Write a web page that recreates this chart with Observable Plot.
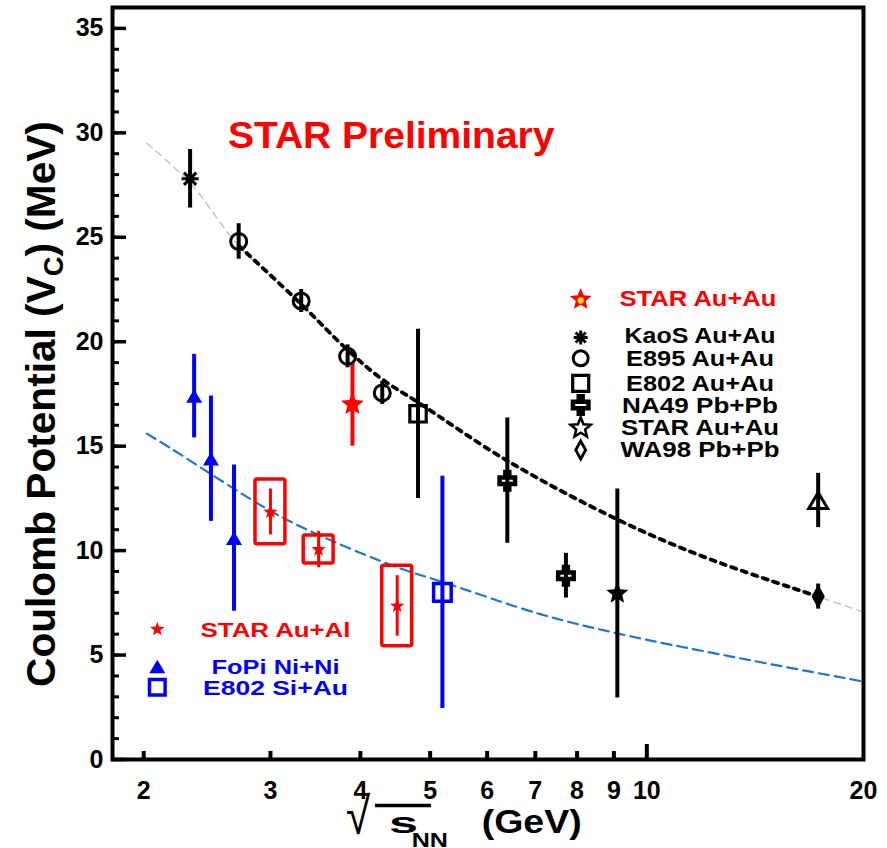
<!DOCTYPE html>
<html>
<head>
<meta charset="utf-8">
<script src="https://cdn.jsdelivr.net/npm/d3@7"></script>
<script src="https://cdn.jsdelivr.net/npm/@observablehq/plot@0.6"></script>
<style>
  html, body { margin: 0; padding: 0; background: #fff; }
  #chart svg { display: block; }
</style>
</head>
<body>
<div id="chart"></div>
<script>
// Coulomb potential V_C (MeV) vs collision energy sqrt(s_NN) (GeV), with uncertainties.
// Heavy systems
const kaosX = [2.32], kaosV = [27.8], kaosErr = [1.4];
const e895X = [2.71, 3.31, 3.84, 4.29], e895V = [24.8, 21.95, 19.3, 17.55], e895Err = [0.85, 0.55, 0.55, 0.55];
const e802AuX = [4.81], e802AuV = [16.55], e802AuErr = [4.05];
const na49X = [6.4, 7.72], na49V = [13.35, 8.8], na49Err = [3.0, 1.07];
const starAuAuX = [9.1], starAuAuV = [7.95], starAuAuErr = [5.0];
const wa98X = [17.3], wa98V = [7.8], wa98Err = [0.6];
const openTriX = [17.3], openTriV = [12.4], openTriErr = [1.3];
const starFxtX = [3.9], starFxtV = [17.0], starFxtErr = [2.0];
// Light systems
const auAlX = [3.0, 3.5, 4.5], auAlV = [11.85, 10.05, 7.35], auAlStat = [1.1, 0.87, 1.45], auAlSys = [1.55, 0.67, 1.93];
const fopiX = [2.35, 2.48, 2.67], fopiV = [17.4, 14.4, 10.6], fopiErr = [2.0, 3.0, 3.5];
const e802SiX = [5.2], e802SiV = [8.0], e802SiErr = [5.56];
// Trend curves
const heavyFitX = [2.02, 2.32, 2.71, 3.31, 3.84, 4.29, 4.81, 6.4, 9.09, 12, 17.3, 20];
const heavyFitV = [29.5, 27.6, 24.6, 21.8, 19.6, 18.2, 17.1, 14.3, 11.5, 9.7, 7.8, 7.05];
const heavyFitRange = [2.71, 17.3];
const lightFitX = [2.02, 2.18, 3.0, 3.5, 4.5, 5.2, 7.11, 9.09, 13, 20];
const lightFitV = [15.6, 14.9, 11.9, 10.75, 9.2, 8.5, 6.96, 6.04, 4.95, 3.73];
// Axes
const xTicks = [2, 3, 4, 5, 6, 7, 8, 9, 10, 20];
const yTicks = [0, 5, 10, 15, 20, 25, 30, 35];
// Legend entries
const heavyLabels = ["KaoS Au+Au", "E895 Au+Au", "E802 Au+Au", "NA49 Pb+Pb", "STAR Au+Au", "WA98 Pb+Pb"];
const lightLabels = ["STAR Au+Al", "FoPi Ni+Ni", "E802 Si+Au"];
const fxtLabel = "STAR Au+Au";
const watermark = "STAR Preliminary";

const pts = (xs, vs, es, sys) => xs.map((x, i) => ({x, v: vs[i], e: es[i], s: sys ? sys[i] : 0}));
const curve = (xs, vs) => xs.map((x, i) => ({x, v: vs[i]}));

const kaos = pts(kaosX, kaosV, kaosErr);
const e895 = pts(e895X, e895V, e895Err);
const e802Au = pts(e802AuX, e802AuV, e802AuErr);
const na49 = pts(na49X, na49V, na49Err);
const starAuAu = pts(starAuAuX, starAuAuV, starAuAuErr);
const wa98 = pts(wa98X, wa98V, wa98Err);
const openTri = pts(openTriX, openTriV, openTriErr);
const starFxt = pts(starFxtX, starFxtV, starFxtErr);
const auAl = pts(auAlX, auAlV, auAlStat, auAlSys);
const fopi = pts(fopiX, fopiV, fopiErr);
const e802Si = pts(e802SiX, e802SiV, e802SiErr);
const heavyFit = curve(heavyFitX, heavyFitV);
const lightFit = curve(lightFitX, lightFitV);

// Marker shapes; r = sqrt(size / PI) is the marker radius in pixels
const rad = s => Math.sqrt(s / Math.PI);
const asteriskSym = {draw(c, s) {
  const r = rad(s), d = r * 0.72;
  c.moveTo(-r, 0); c.lineTo(r, 0); c.moveTo(0, -r); c.lineTo(0, r);
  c.moveTo(-d, -d); c.lineTo(d, d); c.moveTo(-d, d); c.lineTo(d, -d);
}};
const squareSym = {draw(c, s) { const r = rad(s); c.rect(-r, -r, 2 * r, 2 * r); }};
const starSym = inner => ({draw(c, s) {
  const r = rad(s);
  for (let i = 0; i < 10; i++) {
    const a = -Math.PI / 2 + i * Math.PI / 5, rr = i % 2 ? r * inner : r;
    const px = rr * Math.cos(a), py = rr * Math.sin(a);
    if (i) c.lineTo(px, py); else c.moveTo(px, py);
  }
  c.closePath();
}});
const triSym = {draw(c, s) {
  const r = rad(s), h = r * 1.7;
  c.moveTo(0, -h / 2); c.lineTo(r, h / 2); c.lineTo(-r, h / 2); c.closePath();
}};
const diamondSym = {draw(c, s) {
  const r = rad(s), w = r * 0.55;
  c.moveTo(0, -r); c.lineTo(w, 0); c.lineTo(0, r); c.lineTo(-w, 0); c.closePath();
}};
// Filled cross with a thin slot in the middle
const crossSym = {draw(c, s) {
  const r = rad(s), a = r * 0.42, b = r * 0.55, v = r * 1.1, hx = r * 0.55, hy = r * 0.1;
  c.moveTo(-a, -v); c.lineTo(a, -v); c.lineTo(a, -b); c.lineTo(r, -b); c.lineTo(r, b);
  c.lineTo(a, b); c.lineTo(a, v); c.lineTo(-a, v); c.lineTo(-a, b); c.lineTo(-r, b);
  c.lineTo(-r, -b); c.lineTo(-a, -b); c.closePath();
  c.moveTo(-hx, -hy); c.lineTo(-hx, hy); c.lineTo(hx, hy); c.lineTo(hx, -hy); c.closePath();
}};

const RED = "#ff0000", BLUE = "#0000ff", CURVE_BLUE = "#1f77c9";
const FONT = "'Liberation Sans', Arial, Helvetica, sans-serif";

const errBars = (data, stroke, strokeWidth = 4) =>
  Plot.ruleX(data, {x: "x", y1: d => d.v - d.e, y2: d => d.v + d.e, stroke, strokeWidth});

const svg = Plot.plot({
  width: 887,
  height: 848,
  marginLeft: 112,
  marginRight: 24,
  marginTop: 7,
  marginBottom: 89,
  style: {fontFamily: FONT, background: "#fff", overflow: "visible"},
  x: {type: "log", domain: [1.81, 20]},
  y: {domain: [0, 36]},
  marks: [
    // inward ticks
    Plot.axisY({ticks: d3.range(0, 36, 1), tickSize: -7, tickFormat: () => "", strokeWidth: 3, label: null}),
    Plot.axisY({ticks: yTicks, tickSize: -14, tickFormat: () => "", strokeWidth: 3.5, label: null}),
    Plot.axisY({ticks: yTicks, tickSize: 0, tickPadding: 9, fontSize: 24.5, fontWeight: "bold", label: null, tickFormat: d => String(d)}),
    Plot.axisX({ticks: xTicks.filter(t => t < 10), tickSize: -8, tickFormat: () => "", strokeWidth: 4, label: null}),
    Plot.axisX({ticks: xTicks.filter(t => t === 10), tickSize: -15, tickFormat: () => "", strokeWidth: 4, label: null}),
    Plot.axisX({ticks: xTicks, tickSize: 0, tickPadding: 22, fontSize: 24.5, fontWeight: "bold", label: null, tickFormat: d => String(d)}),

    // trend curves
    Plot.line(lightFit, {x: "x", y: "v", stroke: CURVE_BLUE, strokeWidth: 2.2, strokeDasharray: "10,6", curve: "catmull-rom"}),
    Plot.line(heavyFit, {x: "x", y: "v", stroke: "#c4c4c4", strokeWidth: 1.4, strokeDasharray: "7,5", curve: "catmull-rom"}),
    Plot.line(heavyFit.filter(d => d.x >= heavyFitRange[0] && d.x <= heavyFitRange[1]),
      {x: "x", y: "v", stroke: "#000", strokeWidth: 3.8, strokeDasharray: "5,6", curve: "catmull-rom"}),

    // systematic boxes
    Plot.rect(auAl, {x1: d => d.x / 1.049, x2: d => d.x * 1.049, y1: d => d.v - d.s, y2: d => d.v + d.s,
      fill: "none", stroke: RED, strokeWidth: 3.5, rx: 2}),

    // error bars
    errBars(kaos, "#000"), errBars(e895, "#000"), errBars(e802Au, "#000"), errBars(na49, "#000"),
    errBars(starAuAu, "#000"), errBars(wa98, "#000"), errBars(openTri, "#000"),
    errBars(starFxt, RED), errBars(auAl, RED, 3),
    errBars(fopi, BLUE), errBars(e802Si, BLUE),

    // markers
    Plot.dot(kaos, {x: "x", y: "v", symbol: asteriskSym, r: 8.5, fill: "none", stroke: "#000", strokeWidth: 3}),
    Plot.dot(e895, {x: "x", y: "v", symbol: "circle", r: 8, fill: "none", stroke: "#000", strokeWidth: 3}),
    Plot.dot(e802Au, {x: "x", y: "v", symbol: squareSym, r: 8.2, fill: "none", stroke: "#000", strokeWidth: 3.2}),
    Plot.dot(na49, {x: "x", y: "v", symbol: crossSym, r: 10, fill: "#000", stroke: "none"}),
    Plot.dot(starAuAu, {x: "x", y: "v", symbol: starSym(0.45), r: 11.5, fill: "#000", stroke: "none"}),
    Plot.dot(wa98, {x: "x", y: "v", symbol: diamondSym, r: 10, fill: "#000", stroke: "#000", strokeWidth: 2}),
    Plot.dot(openTri, {x: "x", y: "v", symbol: triSym, r: 9.5, fill: "none", stroke: "#000", strokeWidth: 3}),
    Plot.dot(starFxt, {x: "x", y: "v", symbol: starSym(0.45), r: 12, fill: RED, stroke: "none"}),
    Plot.dot(auAl, {x: "x", y: "v", symbol: starSym(0.42), r: 7.5, fill: RED, stroke: "none"}),
    Plot.dot(fopi, {x: "x", y: "v", symbol: triSym, r: 8, fill: BLUE, stroke: "none"}),
    Plot.dot(e802Si, {x: "x", y: "v", symbol: squareSym, r: 8.8, fill: "none", stroke: BLUE, strokeWidth: 3.5}),

    Plot.frame({stroke: "#000", strokeWidth: 4})
  ]
});

document.getElementById("chart").appendChild(svg);

// Tick label font
d3.select(svg).selectAll('g[aria-label="y-axis tick label"], g[aria-label="x-axis tick label"]')
  .attr("font-size", 25)
  .attr("font-weight", "bold")
  .attr("fill", "#000");

// Annotations, titles and legends
const ov = d3.select(svg).append("g")
  .attr("font-family", FONT)
  .attr("font-weight", "bold");

function label(str, x, y, size, color, width, anchor = "start") {
  const t = ov.append("text")
    .attr("font-size", size)
    .attr("fill", color)
    .attr("text-anchor", anchor)
    .text(str);
  const w = t.node().getBBox().width;
  t.attr("transform", `translate(${x},${y}) scale(${width / w},1)`);
  return t;
}

function marker(sym, x, y, r, attrs) {
  const p = ov.append("path")
    .attr("d", d3.symbol(sym, Math.PI * r * r)())
    .attr("transform", `translate(${x},${y})`);
  for (const [k, v] of Object.entries(attrs)) p.attr(k, v);
  return p;
}

label(watermark, 228, 148.3, 37, RED, 327);

// heavy-system legend
marker(starSym(0.45), 580.7, 299.5, 11.5, {fill: RED});
ov.append("circle").attr("cx", 580.7).attr("cy", 300.5).attr("r", 3.2).attr("fill", "#ffd21a");
label(fxtLabel, 698, 306, 21.5, RED, 157, "middle");

const heavyRows = [
  {y: 337.5, base: 343, w: 151, sym: asteriskSym, r: 7, attrs: {fill: "none", stroke: "#000", "stroke-width": 3}},
  {y: 358.3, base: 365.5, w: 148, sym: d3.symbolCircle, r: 7.5, attrs: {fill: "none", stroke: "#000", "stroke-width": 3}},
  {y: 383.3, base: 390.5, w: 148, sym: squareSym, r: 8, attrs: {fill: "none", stroke: "#000", "stroke-width": 3.2}},
  {y: 405, base: 412.5, w: 156, sym: crossSym, r: 10, attrs: {fill: "#000"}},
  {y: 428, base: 435, w: 158, sym: starSym(0.45), r: 10.5, attrs: {fill: "#fff", stroke: "#000", "stroke-width": 2.6}},
  {y: 450, base: 457, w: 159, sym: diamondSym, r: 9, attrs: {fill: "#fff", stroke: "#000", "stroke-width": 2.8}}
];
heavyRows.forEach((row, i) => {
  marker(row.sym, 580.7, row.y, row.r, row.attrs);
  label(heavyLabels[i], 700, row.base, 21.5, "#000", row.w, "middle");
});

// light-system legend
const lightRows = [
  {y: 629.3, base: 636.8, w: 150, color: RED, sym: starSym(0.42), r: 7.5, attrs: {fill: RED}},
  {y: 666.5, base: 674.3, w: 128, color: BLUE, sym: triSym, r: 8, attrs: {fill: BLUE}},
  {y: 687.3, base: 695, w: 145, color: BLUE, sym: squareSym, r: 7.8, attrs: {fill: "none", stroke: BLUE, "stroke-width": 3.5}}
];
lightRows.forEach((row, i) => {
  marker(row.sym, 157.3, row.y, row.r, row.attrs);
  label(lightLabels[i], 275.5, row.base, 20.5, row.color, row.w, "middle");
});

// y-axis title with subscript
{
  const t = ov.append("text").attr("font-size", 40).attr("fill", "#000").attr("text-anchor", "middle");
  t.append("tspan").text("Coulomb Potential (V");
  t.append("tspan").attr("font-size", 27).attr("dy", 8).text("C");
  t.append("tspan").attr("dy", -8).text(") (MeV)");
  const w = t.node().getBBox().width;
  t.attr("transform", `translate(55,404) rotate(-90) scale(${566 / w},1)`);
}

// x-axis title: radical sign over s, subscript NN, unit
ov.append("text").attr("font-size", 52).attr("font-weight", "normal").attr("fill", "#000")
  .attr("transform", "translate(358,834) scale(0.85,1)").text("\u221A");
ov.append("line").attr("x1", 375).attr("x2", 431).attr("y1", 805.5).attr("y2", 805.5)
  .attr("stroke", "#000").attr("stroke-width", 3.5);
label("s", 389, 833.3, 29, "#000", 29);
label("NN", 411.7, 847, 20, "#000", 36.3);
label("(GeV)", 481.7, 832.7, 32.6, "#000", 100);
</script>
</body>
</html>
